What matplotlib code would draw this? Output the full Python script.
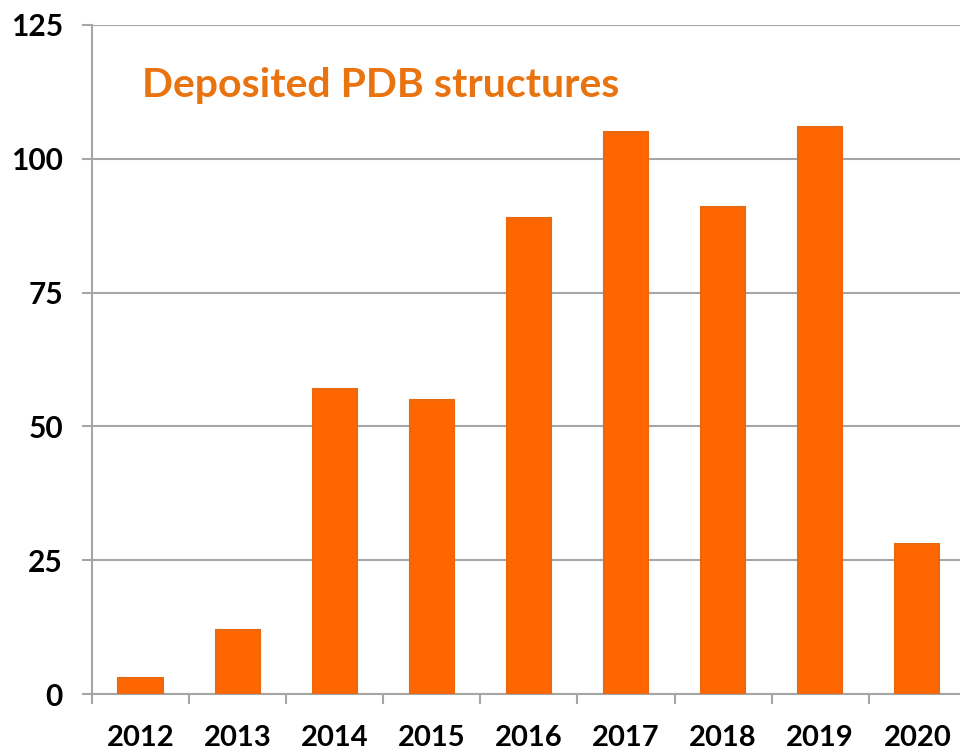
import matplotlib
matplotlib.use("Agg")
import matplotlib.pyplot as plt
import numpy as np

years = ["2012", "2013", "2014", "2015", "2016", "2017", "2018", "2019", "2020"]
counts = [3, 12, 57, 55, 89, 105, 91, 106, 28]
yticks = [0, 25, 50, 75, 100, 125]
title = "Deposited PDB structures"

plt.rcParams['font.family'] = ['Lato', 'DejaVu Sans']

fig = plt.figure(figsize=(9.6, 7.53), dpi=100)
ax = fig.add_axes([92/960, 59/753, 1 - 92/960, (694-25)/753])

x = np.arange(len(years))
ax.bar(x, counts, width=0.455, color="#FF6600", edgecolor="#E8690F", linewidth=1.5, zorder=3)

ax.set_xlim(-0.5, len(years) - 0.56)
ax.set_ylim(0, 125)
ax.set_yticks(yticks)
ax.set_yticklabels([str(v) for v in yticks], fontsize=21.5, fontweight='bold')
ax.yaxis.grid(True, color="#A6A6A6", linewidth=1.5, zorder=0)
ax.tick_params(axis='y', length=7, width=1.5, color="#A6A6A6", pad=14)

ax.set_xticks(x)
ax.set_xticklabels(years, fontsize=21, fontweight='bold')
ax.tick_params(axis='x', length=0, pad=22)
ax.set_xticks(np.arange(len(years)) - 0.5, minor=True)
ax.tick_params(axis='x', which='minor', length=7, width=1.5, color="#A6A6A6", direction='out')

for s in ['top', 'right']:
    ax.spines[s].set_visible(False)
for s in ['left', 'bottom']:
    ax.spines[s].set_color("#A6A6A6")
    ax.spines[s].set_linewidth(1.5)

ax.text(0.058, 0.91, title, transform=ax.transAxes, fontsize=29.5, fontweight='bold',
        color="#E8730F", ha='left', va='center')

fig.savefig("out.png", dpi=100)
